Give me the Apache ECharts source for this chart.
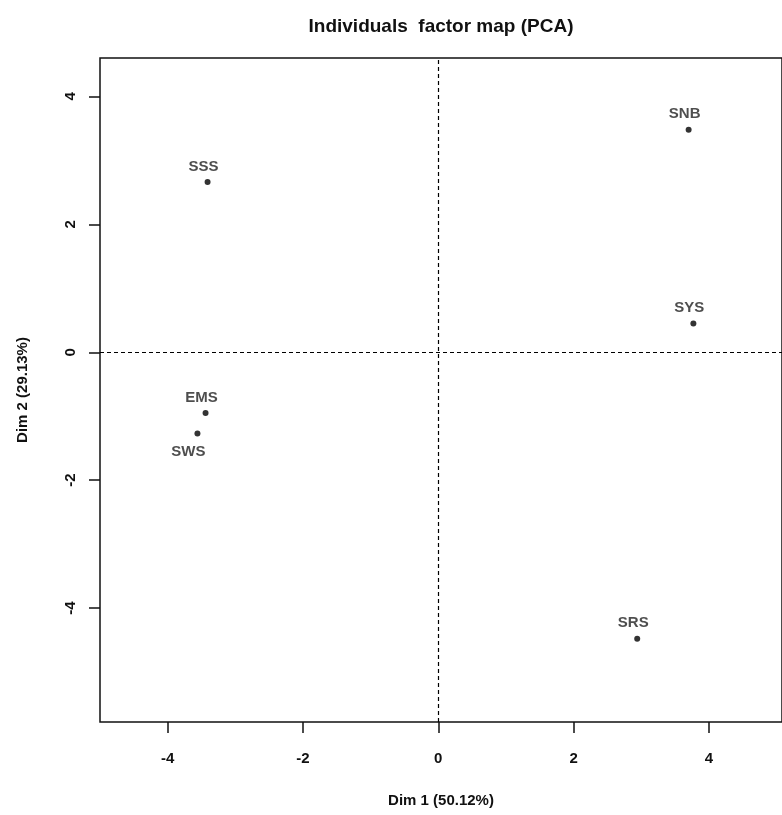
<!DOCTYPE html>
<html>
<head>
<meta charset="utf-8">
<script src="https://cdn.jsdelivr.net/npm/echarts@6/dist/echarts.min.js"></script>
<style>
  html, body { margin: 0; padding: 0; background: #fff; }
  #chart { width: 782px; height: 815px; }
</style>
</head>
<body>
<div id="chart"></div>
<script>
// PCA individuals: coordinates on the first two dimensions
const individuals = ['SNB', 'SYS', 'SSS', 'EMS', 'SWS', 'SRS'];
const dim1 = [3.70, 3.77, -3.41, -3.44, -3.56, 2.94];
const dim2 = [3.48, 0.45, 2.66, -0.95, -1.27, -4.48];
const xTicks = [-4, -2, 0, 2, 4];
const yTicks = [-4, -2, 0, 2, 4];
// labels written under the point instead of above it
const labelsBelow = ['SWS'];

const FONT = '"Liberation Sans", Arial, sans-serif';

const points = individuals.map((name, i) => {
  const below = labelsBelow.includes(name);
  return {
    name: name,
    value: [dim1[i], dim2[i]],
    label: below
      ? { position: 'bottom', distance: 8, offset: [-9, 0] }
      : { position: 'top', distance: 5, offset: [-4, 0] }
  };
});

const axisText = { fontFamily: FONT, fontWeight: 'bold', fontSize: 15, color: '#111' };

const chart = echarts.init(document.getElementById('chart'), null, { renderer: 'canvas' });
chart.setOption({
  animation: false,
  backgroundColor: '#fff',
  title: {
    text: 'Individuals  factor map (PCA)',
    left: 436, top: 12, textAlign: 'center',
    textStyle: { fontFamily: FONT, fontWeight: 'bold', fontSize: 19, color: '#111' }
  },
  grid: {
    left: 100, top: 58, right: -3, bottom: 93,
    show: true, borderColor: '#111', borderWidth: 1.5, backgroundColor: 'transparent'
  },
  xAxis: {
    type: 'value', min: -5, max: 5.08,
    name: 'Dim 1 (50.12%)', nameLocation: 'middle', nameGap: 71,
    nameTextStyle: axisText,
    axisLine: { show: false, onZero: false },
    axisTick: { show: true, customValues: xTicks, length: 11, lineStyle: { color: '#111', width: 1.5 } },
    axisLabel: Object.assign({ customValues: xTicks, margin: 29 }, axisText),
    splitLine: { show: false }
  },
  yAxis: {
    type: 'value', min: -5.78, max: 4.6,
    name: 'Dim 2 (29.13%)', nameLocation: 'middle', nameGap: 70,
    nameTextStyle: axisText,
    axisLine: { show: false, onZero: false },
    axisTick: { show: true, customValues: yTicks, length: 11, lineStyle: { color: '#111', width: 1.5 } },
    axisLabel: Object.assign({ customValues: yTicks, rotate: 90, margin: 22 }, axisText),
    splitLine: { show: false }
  },
  series: [{
    type: 'scatter',
    symbol: 'circle',
    symbolSize: 6,
    itemStyle: { color: '#000' },
    label: {
      show: true,
      formatter: '{b}',
      fontFamily: FONT, fontWeight: 'bold', fontSize: 15, color: '#222'
    },
    data: points,
    markLine: {
      silent: true,
      symbol: 'none',
      label: { show: false },
      lineStyle: { type: [4, 3], color: '#000', width: 1.2 },
      data: [{ xAxis: 0 }, { yAxis: 0 }]
    }
  }]
});
</script>
</body>
</html>
